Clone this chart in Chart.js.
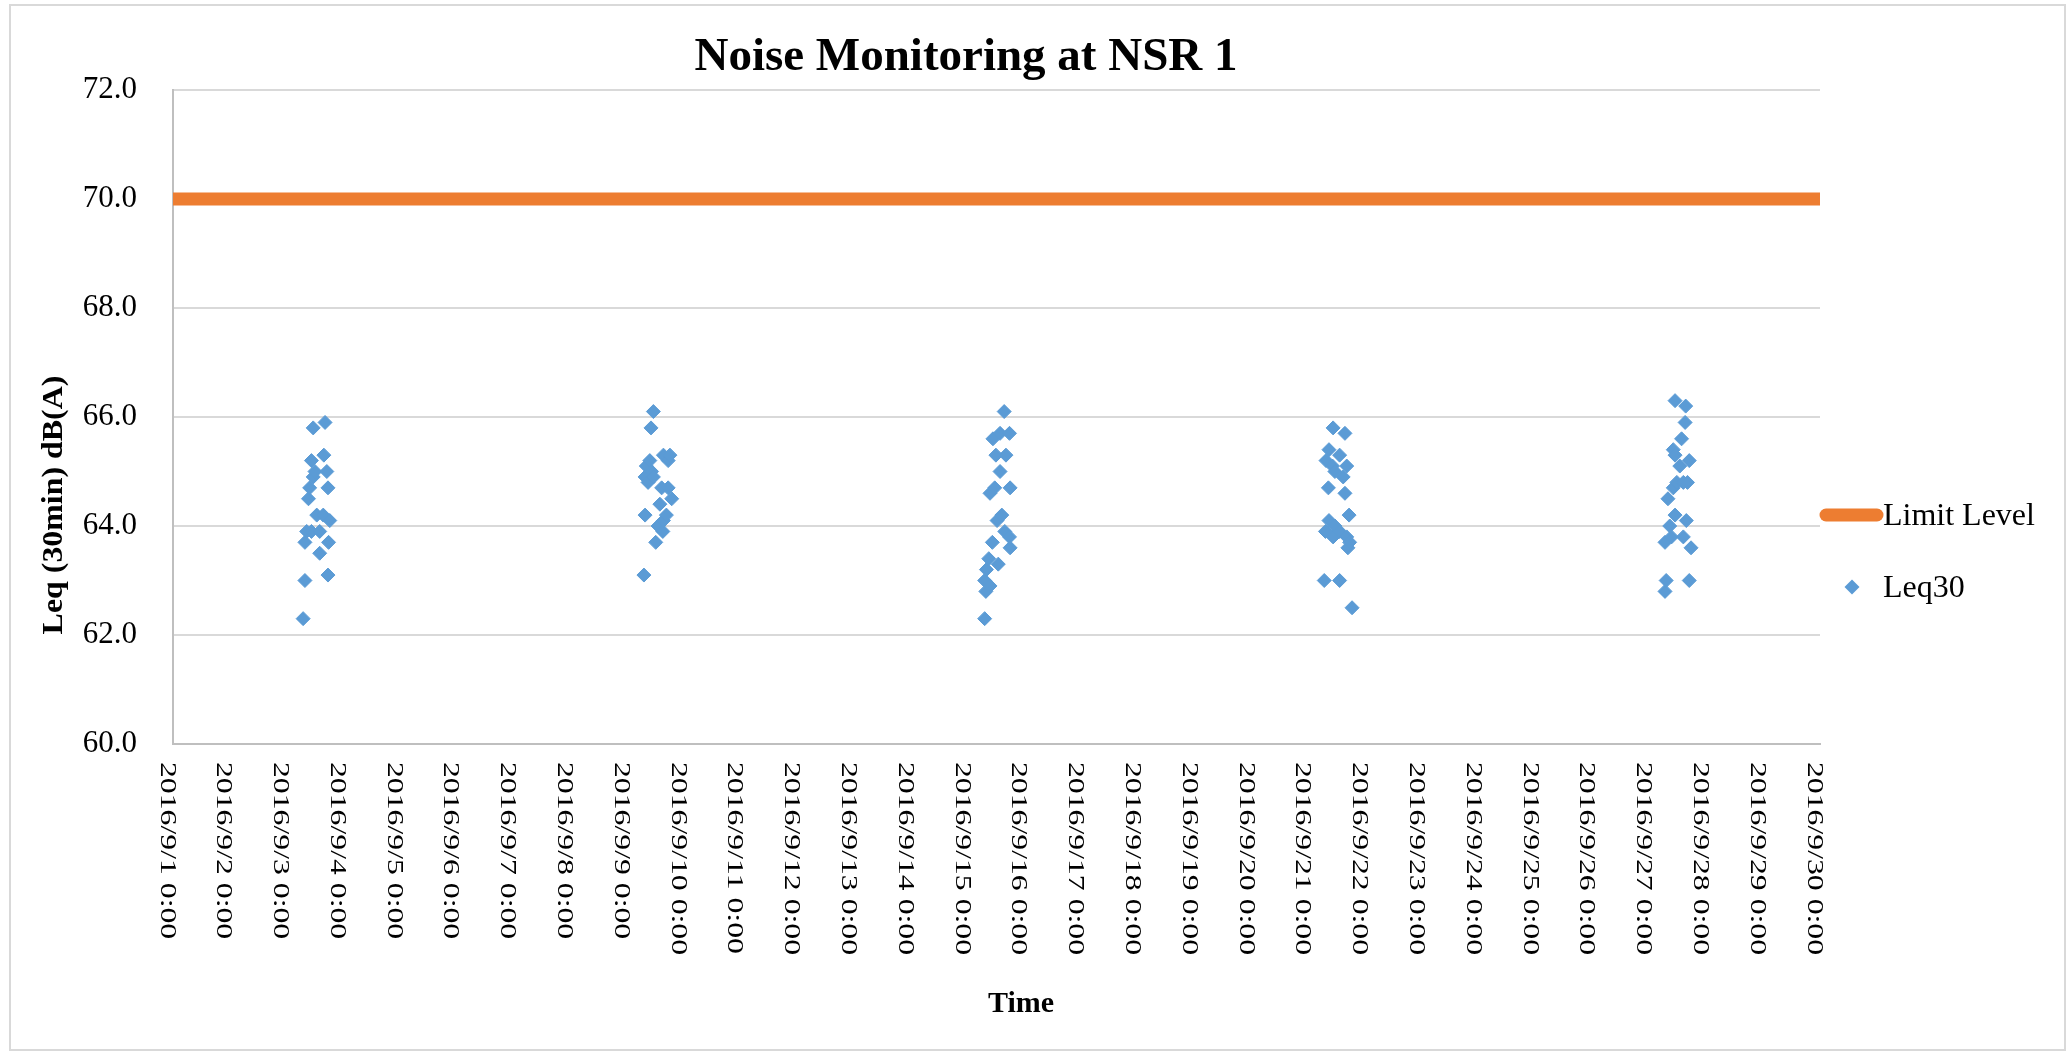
<!DOCTYPE html>
<html>
<head>
<meta charset="utf-8">
<title>Noise Monitoring at NSR 1</title>
<script src="https://cdn.jsdelivr.net/npm/chart.js@4.4.1/dist/chart.umd.min.js"></script>
<style>
  html, body { margin: 0; padding: 0; background: #fff; }
  #wrap { position: relative; width: 2071px; height: 1055px; }
</style>
</head>
<body>
<div id="wrap"><canvas id="noiseChart"></canvas></div>
<script>
// ── Data ──
const chartTitle = 'Noise Monitoring at NSR 1';
const yAxisTitle = 'Leq (30min) dB(A)';
const xAxisTitle = 'Time';

const limitLabel = 'Limit Level';
const limitTimes = ['2016-09-01 00:00', '2016-09-30 00:00'];
const limitLevel = 70.0;

const leqLabel = 'Leq30';
const leqTimes = [
    // 9/3
    '2016-09-03 07:00', '2016-09-03 07:45', '2016-09-03 07:45', '2016-09-03 08:30', '2016-09-03 09:15',
    '2016-09-03 09:45', '2016-09-03 10:30', '2016-09-03 10:30', '2016-09-03 11:15', '2016-09-03 11:15',
    '2016-09-03 12:00', '2016-09-03 12:45', '2016-09-03 14:00', '2016-09-03 14:00', '2016-09-03 15:30',
    '2016-09-03 15:45', '2016-09-03 16:15', '2016-09-03 17:00', '2016-09-03 17:30', '2016-09-03 17:30',
    '2016-09-03 17:45', '2016-09-03 18:15',
    // 9/9
    '2016-09-09 07:00', '2016-09-09 07:30', '2016-09-09 07:30', '2016-09-09 08:00', '2016-09-09 08:45',
    '2016-09-09 09:30', '2016-09-09 10:00', '2016-09-09 10:15', '2016-09-09 11:00', '2016-09-09 11:00',
    '2016-09-09 12:00', '2016-09-09 13:00', '2016-09-09 13:45', '2016-09-09 14:30', '2016-09-09 15:00',
    '2016-09-09 15:15', '2016-09-09 15:15', '2016-09-09 16:30', '2016-09-09 17:15', '2016-09-09 17:15',
    '2016-09-09 18:00', '2016-09-09 18:45',
    // 9/15
    '2016-09-15 07:00', '2016-09-15 07:00', '2016-09-15 07:30', '2016-09-15 07:45', '2016-09-15 08:45',
    '2016-09-15 09:15', '2016-09-15 09:15', '2016-09-15 10:15', '2016-09-15 10:30', '2016-09-15 11:15',
    '2016-09-15 11:45', '2016-09-15 12:15', '2016-09-15 12:45', '2016-09-15 13:30', '2016-09-15 13:30',
    '2016-09-15 14:15', '2016-09-15 15:15', '2016-09-15 15:30', '2016-09-15 16:00', '2016-09-15 17:30',
    '2016-09-15 17:30', '2016-09-15 17:45', '2016-09-15 17:45',
    // 9/21
    '2016-09-21 06:30', '2016-09-21 07:00', '2016-09-21 07:15', '2016-09-21 08:15', '2016-09-21 08:30',
    '2016-09-21 08:30', '2016-09-21 10:00', '2016-09-21 10:15', '2016-09-21 10:15', '2016-09-21 11:00',
    '2016-09-21 11:00', '2016-09-21 13:00', '2016-09-21 13:00', '2016-09-21 13:00', '2016-09-21 14:30',
    '2016-09-21 15:15', '2016-09-21 15:15', '2016-09-21 16:00', '2016-09-21 16:00', '2016-09-21 16:30',
    '2016-09-21 17:00', '2016-09-21 17:15', '2016-09-21 18:15',
    // 9/27
    '2016-09-27 06:30', '2016-09-27 06:30', '2016-09-27 07:00', '2016-09-27 07:45', '2016-09-27 08:30',
    '2016-09-27 09:15', '2016-09-27 10:00', '2016-09-27 10:00', '2016-09-27 10:45', '2016-09-27 10:45',
    '2016-09-27 10:45', '2016-09-27 11:30', '2016-09-27 12:45', '2016-09-27 13:30', '2016-09-27 14:15',
    '2016-09-27 14:15', '2016-09-27 15:00', '2016-09-27 15:15', '2016-09-27 15:30', '2016-09-27 16:00',
    '2016-09-27 16:45', '2016-09-27 16:45', '2016-09-27 17:30'
];
const leqValues = [
    // 9/3
    62.3, 63.0, 63.7, 63.9, 64.5, 64.7, 63.9, 65.2, 65.8, 64.9,
    65.0, 64.2, 63.9, 63.5, 64.2, 65.3, 65.9, 65.0, 64.7, 63.1,
    63.7, 64.1,
    // 9/9
    63.1, 64.9, 64.2, 65.1, 64.8, 65.2, 65.8, 65.0, 66.1, 64.9,
    63.7, 64.0, 64.4, 64.7, 63.9, 65.3, 64.1, 64.2, 65.2, 64.7,
    65.3, 64.5,
    // 9/15
    62.3, 63.0, 62.8, 63.2, 63.4, 64.6, 62.9, 63.7, 65.6, 64.7,
    65.3, 64.1, 63.3, 65.7, 65.0, 64.2, 66.1, 63.9, 65.3, 65.7,
    63.8, 64.7, 63.6,
    // 9/21
    63.0, 63.9, 65.2, 64.7, 65.4, 64.1, 65.1, 65.8, 63.8, 65.0,
    64.0, 65.3, 63.0, 63.9, 64.9, 65.7, 64.6, 65.1, 63.8, 63.6,
    64.2, 63.7, 62.5,
    // 9/27
    62.8, 63.7, 63.0, 64.5, 64.0, 63.8, 65.4, 64.7, 66.3, 65.3,
    64.2, 64.8, 65.1, 65.6, 64.8, 63.8, 65.9, 66.2, 64.1, 64.8,
    65.2, 63.0, 63.6
];

const xTickLabels = [];
for (let d = 1; d <= 30; d++) xTickLabels.push('2016/9/' + d + ' 0:00');
const yMin = 60, yMax = 72, yStep = 2;

// ── Helpers ──
const SERIF = "'Liberation Serif', 'Times New Roman', serif";
const BLUE = '#5B9BD5';
const ORANGE = '#ED7D31';
const GRID = '#D9D9D9';
const AXIS = '#BFBFBF';

// days since 2016/9/1 0:00
function toDay(s) {
    const [date, time] = s.split(' ');
    const [Y, M, D] = date.split('-').map(Number);
    const [h, m] = time.split(':').map(Number);
    return (Date.UTC(Y, M - 1, D, h, m) - Date.UTC(2016, 8, 1)) / 86400000;
}

const leqPoints = leqTimes.map((t, i) => ({ x: toDay(t), y: leqValues[i] }));
const limitPoints = limitTimes.map(t => ({ x: toDay(t), y: limitLevel }));

// ── Overlay: titles, rotated date labels, legend, frame ──
const overlay = {
    id: 'overlay',
    afterDraw(chart) {
        const ctx = chart.ctx;
        const xs = chart.scales.x;
        ctx.save();
        ctx.fillStyle = '#000';

        // main title
        ctx.font = 'bold 47px ' + SERIF;
        ctx.textAlign = 'center';
        ctx.textBaseline = 'alphabetic';
        ctx.fillText(chartTitle, 966, 70);

        // x tick labels, turned clockwise (reference text is drawn long and narrow)
        ctx.font = '23px ' + SERIF;
        ctx.textAlign = 'left';
        xTickLabels.forEach((lab, i) => {
            const px = xs.getPixelForValue(i);
            ctx.save();
            ctx.translate(px - 12.5, 762);
            ctx.rotate(Math.PI / 2);
            ctx.scale(1.38, 1);
            ctx.fillText(lab, 0, 0);
            ctx.restore();
        });

        // axis titles
        ctx.font = 'bold 29px ' + SERIF;
        ctx.textAlign = 'center';
        ctx.save();
        ctx.translate(62, 505);
        ctx.rotate(-Math.PI / 2);
        ctx.scale(1.1, 1);
        ctx.fillText(yAxisTitle, 0, 0);
        ctx.restore();

        ctx.font = 'bold 30px ' + SERIF;
        ctx.fillText(xAxisTitle, 1021, 1012);

        // legend
        ctx.strokeStyle = ORANGE;
        ctx.lineWidth = 13;
        ctx.lineCap = 'round';
        ctx.beginPath();
        ctx.moveTo(1826, 515);
        ctx.lineTo(1877, 515);
        ctx.stroke();

        ctx.fillStyle = BLUE;
        ctx.beginPath();
        ctx.moveTo(1852, 579.5);
        ctx.lineTo(1859.5, 587);
        ctx.lineTo(1852, 594.5);
        ctx.lineTo(1844.5, 587);
        ctx.closePath();
        ctx.fill();

        ctx.fillStyle = '#000';
        ctx.font = '32px ' + SERIF;
        ctx.textAlign = 'left';
        ctx.fillText(limitLabel, 1883, 525);
        ctx.fillText(leqLabel, 1883, 597);

        // chart frame
        ctx.strokeStyle = GRID;
        ctx.lineWidth = 2;
        ctx.lineCap = 'butt';
        ctx.strokeRect(10, 5, 2055, 1045);
        ctx.restore();
    }
};

// ── Chart ──
const chart = new Chart(document.getElementById('noiseChart'), {
    type: 'scatter',
    data: {
        datasets: [
            {
                label: limitLabel,
                data: limitPoints,
                showLine: true,
                borderColor: ORANGE,
                backgroundColor: ORANGE,
                borderWidth: 13,
                borderCapStyle: 'butt',
                pointRadius: 0,
                pointHoverRadius: 0,
                order: 2
            },
            {
                label: leqLabel,
                data: leqPoints,
                pointStyle: 'rectRot',
                pointRadius: 7,
                pointHoverRadius: 7,
                backgroundColor: BLUE,
                borderColor: BLUE,
                borderWidth: 1,
                order: 1
            }
        ]
    },
    options: {
        responsive: true,
        maintainAspectRatio: false,
        animation: false,
        layout: { padding: { left: 0, top: 90, right: 251, bottom: 0 } },
        plugins: {
            legend: { display: false },
            title: { display: false },
            tooltip: { enabled: false }
        },
        scales: {
            x: {
                type: 'linear',
                min: 0,
                max: 29,
                ticks: { display: false, stepSize: 1 },
                grid: { display: false },
                border: { display: true, color: AXIS, width: 2 },
                afterFit(s) { s.height = 311; }
            },
            y: {
                min: yMin,
                max: yMax,
                ticks: {
                    stepSize: yStep,
                    padding: 36,
                    color: '#000',
                    font: { family: SERIF, size: 31 },
                    callback: v => v.toFixed(1)
                },
                grid: { color: GRID, lineWidth: 2, drawTicks: false },
                border: { display: true, color: AXIS, width: 2 },
                afterFit(s) { s.width = 173; }
            }
        }
    },
    plugins: [overlay]
});
</script>
</body>
</html>
